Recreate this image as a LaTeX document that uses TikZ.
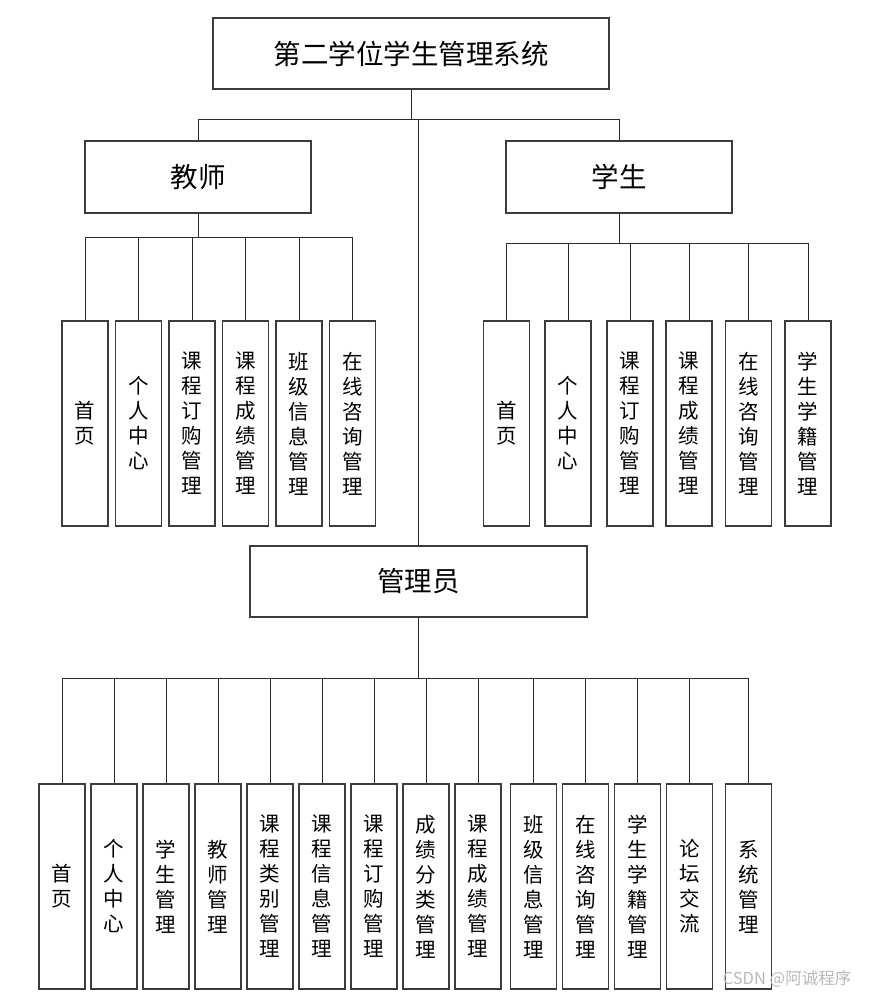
\documentclass[tikz,border=0pt]{standalone}
\usepackage{fontspec}
\newfontfamily\cjk{Noto Sans CJK SC}
\definecolor{boxline}{HTML}{3C3C3C}
\definecolor{wireline}{HTML}{2A2A2A}
\tikzset{
  topbox/.style={draw=boxline, line width=1.1pt, inner sep=0pt, font=\cjk\fontsize{27.5}{30}\selectfont},
  leafbox/.style={draw=boxline, line width=1.1pt, inner sep=0pt, minimum width=46pt, minimum height=205pt, align=center, font=\cjk\fontsize{20.5}{25}\selectfont},
  wire/.style={draw=wireline, line width=1pt}
}
\begin{document}
\begin{tikzpicture}[x=1pt, y=-1pt]
\useasboundingbox (0,0) rectangle (871,997);
\node[topbox, minimum width=396pt, minimum height=71pt] (root) at (411,53.5) {第二学位学生管理系统};
\node[topbox, minimum width=226pt, minimum height=72pt] (T) at (198,177) {教师};
\node[topbox, minimum width=226pt, minimum height=72pt] (S) at (619,177) {学生};
\node[topbox, minimum width=337pt, minimum height=71pt] (A) at (418.5,581.5) {管理员};
\coordinate (R_bus) at (411,119);
\draw[wire] (root.south) -- (R_bus);
\draw[wire] (R_bus) -| (T.north);
\draw[wire] (R_bus) -| (S.north);
\draw[wire] (A.north) -- (A.north |- R_bus);
% teacher
\coordinate (T_bus) at (198,237);
\draw[wire] (T.south) -- (T_bus);
\node[leafbox] (T_1) at (85,423.5) {首\\页};
\draw[wire] (T_bus) -| (T_1.north);
\node[leafbox] (T_2) at (138.5,423.5) {个\\人\\中\\心};
\draw[wire] (T_bus) -| (T_2.north);
\node[leafbox] (T_3) at (192,423.5) {课\\程\\订\\购\\管\\理};
\draw[wire] (T_bus) -| (T_3.north);
\node[leafbox] (T_4) at (245.5,423.5) {课\\程\\成\\绩\\管\\理};
\draw[wire] (T_bus) -| (T_4.north);
\node[leafbox] (T_5) at (299,423.5) {班\\级\\信\\息\\管\\理};
\draw[wire] (T_bus) -| (T_5.north);
\node[leafbox] (T_6) at (352.5,423.5) {在\\线\\咨\\询\\管\\理};
\draw[wire] (T_bus) -| (T_6.north);
% student
\coordinate (S_bus) at (619,243);
\draw[wire] (S.south) -- (S_bus);
\node[leafbox] (S_1) at (506.5,423.5) {首\\页};
\draw[wire] (S_bus) -| (S_1.north);
\node[leafbox] (S_2) at (568,423.5) {个\\人\\中\\心};
\draw[wire] (S_bus) -| (S_2.north);
\node[leafbox] (S_3) at (630,423.5) {课\\程\\订\\购\\管\\理};
\draw[wire] (S_bus) -| (S_3.north);
\node[leafbox] (S_4) at (689,423.5) {课\\程\\成\\绩\\管\\理};
\draw[wire] (S_bus) -| (S_4.north);
\node[leafbox] (S_5) at (748.5,423.5) {在\\线\\咨\\询\\管\\理};
\draw[wire] (S_bus) -| (S_5.north);
\node[leafbox] (S_6) at (808,423.5) {学\\生\\学\\籍\\管\\理};
\draw[wire] (S_bus) -| (S_6.north);
% admin
\coordinate (A_bus) at (418.5,678);
\draw[wire] (A.south) -- (A_bus);
\node[leafbox] (A_1) at (62,886.5) {首\\页};
\draw[wire] (A_bus) -| (A_1.north);
\node[leafbox] (A_2) at (114,886.5) {个\\人\\中\\心};
\draw[wire] (A_bus) -| (A_2.north);
\node[leafbox] (A_3) at (166,886.5) {学\\生\\管\\理};
\draw[wire] (A_bus) -| (A_3.north);
\node[leafbox] (A_4) at (218,886.5) {教\\师\\管\\理};
\draw[wire] (A_bus) -| (A_4.north);
\node[leafbox] (A_5) at (270,886.5) {课\\程\\类\\别\\管\\理};
\draw[wire] (A_bus) -| (A_5.north);
\node[leafbox] (A_6) at (322,886.5) {课\\程\\信\\息\\管\\理};
\draw[wire] (A_bus) -| (A_6.north);
\node[leafbox] (A_7) at (374,886.5) {课\\程\\订\\购\\管\\理};
\draw[wire] (A_bus) -| (A_7.north);
\node[leafbox] (A_8) at (426,886.5) {成\\绩\\分\\类\\管\\理};
\draw[wire] (A_bus) -| (A_8.north);
\node[leafbox] (A_9) at (478,886.5) {课\\程\\成\\绩\\管\\理};
\draw[wire] (A_bus) -| (A_9.north);
\node[leafbox] (A_10) at (533.5,886.5) {班\\级\\信\\息\\管\\理};
\draw[wire] (A_bus) -| (A_10.north);
\node[leafbox] (A_11) at (585.5,886.5) {在\\线\\咨\\询\\管\\理};
\draw[wire] (A_bus) -| (A_11.north);
\node[leafbox] (A_12) at (637.5,886.5) {学\\生\\学\\籍\\管\\理};
\draw[wire] (A_bus) -| (A_12.north);
\node[leafbox] (A_13) at (689.5,886.5) {论\\坛\\交\\流};
\draw[wire] (A_bus) -| (A_13.north);
\node[leafbox] (A_14) at (748.5,886.5) {系\\统\\管\\理};
\draw[wire] (A_bus) -| (A_14.north);
% watermark
\node[text=gray!55, font=\cjk\fontsize{16.5}{17}\selectfont] (mark) at (787,979) {CSDN @阿诚程序};
\end{tikzpicture}
\end{document}
